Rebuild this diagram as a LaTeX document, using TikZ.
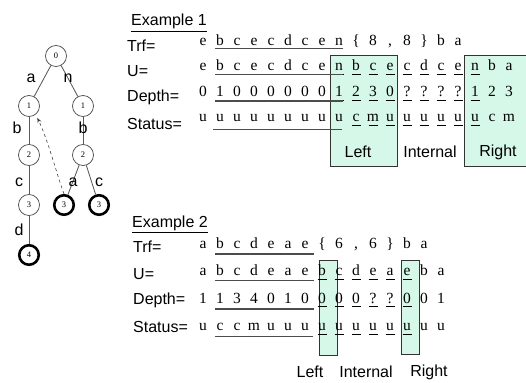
\documentclass[tikz,border=0pt]{standalone}
\usepackage{fontspec}
\setmainfont{Liberation Serif}
\newfontfamily\hv{Liberation Sans}
\usetikzlibrary{arrows.meta}
\definecolor{mint}{HTML}{D5F8E8}
\begin{document}
\begin{tikzpicture}[x=1pt,y=-1pt,
  ch/.style={anchor=base, inner sep=0pt, font=\fontsize{15.5}{18}\selectfont},
  lab/.style={anchor=west, inner sep=0pt, font=\hv\fontsize{16}{19}\selectfont},
  ttl/.style={anchor=base west, inner sep=0pt, font=\hv\fontsize{16}{19}\selectfont},
  sec/.style={inner sep=0pt, font=\hv\fontsize{16}{19}\selectfont},
  el/.style={inner sep=0pt, font=\hv\fontsize{16}{19}\selectfont},
  regbox/.style={draw=black!80, line width=0.8pt, fill=mint},
  ul/.style={line width=0.8pt, black},
  longl/.style={line width=1.3pt, black!70},
  tn/.style={circle, draw=black!70, line width=0.75pt, minimum size=21pt, inner sep=0pt, font=\fontsize{8.5}{9}\selectfont},
  tb/.style={tn, draw=black, line width=2.6pt, minimum size=19.5pt},
  te/.style={draw=black!65, line width=0.85pt},
  ptr/.style={draw=black!75, dashed, line width=0.6pt, -{Stealth[length=5pt,width=4pt]}}
]
\useasboundingbox (0,0) rectangle (526,382);

% ---------------- tree ----------------
\node[tn] (r0) at (56,56) {0};
\node[tn] (l1) at (29,106) {1};
\node[tn] (q1) at (83,106) {1};
\node[tn] (l2) at (29,155) {2};
\node[tn] (q2) at (83,155) {2};
\node[tn] (l3) at (29,205) {3};
\node[tb] (m3) at (64,205) {3};
\node[tb] (q3) at (99,205) {3};
\node[tb] (l4) at (29,255) {4};
\draw[te] (r0) -- (l1);
\draw[te] (r0) -- (q1);
\draw[te] (l1) -- (l2);
\draw[te] (l2) -- (l3);
\draw[te] (l3) -- (l4);
\draw[te] (q1) -- (q2);
\draw[te] (q2) -- (m3);
\draw[te] (q2) -- (q3);
\node[el] (ea) at (31,78) {a};
\node[el] (en) at (68,78) {n};
\node[el] (eb) at (17,128) {b};
\node[el] (eb2) at (83,128) {b};
\node[el] (ec) at (19,182) {c};
\node[el] (ea2) at (73,182) {a};
\node[el] (ec2) at (99,182) {c};
\node[el] (ed) at (19,230) {d};
\draw[ptr] (m3.north) .. controls (56,172) and (49,143) .. ([shift={(2,3)}]l1.-54);

% ---------------- Example 1 ----------------
\node[ttl] (t1) at (131,26) {Example 1};
\draw[line width=0.8pt] ([shift={(0,5)}]t1.base west) -- ([shift={(0,5)}]t1.base east);
\node[lab] (t1trf) at (127,46) {Trf=};
\node[lab] (t1u) at (127,71) {U=};
\node[lab] (t1d) at (127,97) {Depth=};
\node[lab] (t1s) at (127,124) {Status=};

\node[regbox, minimum width=67pt, minimum height=111pt, anchor=north west, inner sep=0pt] (b1l) at (330,55) {};
\node[regbox, minimum width=70pt, minimum height=111pt, anchor=north west, inner sep=0pt] (b1r) at (464,55) {};
\node[sec] (s1l) at (358,152) {Left};
\node[sec] (s1i) at (430,152) {Internal};
\node[sec] (s1r) at (498,152) {Right};

\foreach \c [count=\i] in {e,b,c,e,c,d,c,e,n,\{,8,{,},8,\},b,a}
  \node[ch] (a\i) at ({203+17*(\i-1)},45.5) {\c};
\foreach \c [count=\i] in {e,b,c,e,c,d,c,e,n,b,c,e,c,d,c,e,n,b,a}
  \node[ch] (b\i) at ({203+17*(\i-1)},71) {\c};
\foreach \c [count=\i] in {0,1,0,0,0,0,0,0,1,2,3,0,?,?,?,?,1,2,3}
  \node[ch] (c\i) at ({203+17*(\i-1)},96.5) {\c};
\foreach \c [count=\i] in {u,u,u,u,u,u,u,u,u,c,m,u,u,u,u,u,u,c,m}
  \node[ch] (d\i) at ({203+17*(\i-1)},122) {\c};

\foreach \i in {9,...,17} {
  \draw[ul] ([shift={(-4.5,3.5)}]b\i.base) -- ([shift={(4.5,3.5)}]b\i.base);
  \draw[ul] ([shift={(-4.5,3.5)}]c\i.base) -- ([shift={(4.5,3.5)}]c\i.base);
}
\foreach \i in {10,...,17}
  \draw[ul] ([shift={(-4.5,3.5)}]d\i.base) -- ([shift={(4.5,3.5)}]d\i.base);

\draw[longl] ([shift={(-5,3.2)}]a2.base) -- ([shift={(4,3.2)}]a9.base);
\draw[longl] ([shift={(-5,3.2)}]b2.base) -- ([shift={(4,3.2)}]b9.base);
\draw[longl] ([shift={(-5,4.5)}]c2.base) -- ([shift={(4,4.5)}]c9.base);
\draw[longl] ([shift={(-7,7.5)}]d2.base) -- ([shift={(3,7.5)}]d9.base);

% ---------------- Example 2 ----------------
\node[ttl] (t2) at (132,227) {Example 2};
\draw[line width=0.8pt] ([shift={(0,5)}]t2.base west) -- ([shift={(0,5)}]t2.base east);
\node[lab] (t2trf) at (133,247) {Trf=};
\node[lab] (t2u) at (133,274) {U=};
\node[lab] (t2d) at (133,300) {Depth=};
\node[lab] (t2s) at (133,327) {Status=};

\node[regbox, minimum width=18pt, minimum height=95pt, anchor=north west, inner sep=0pt] (b2l) at (319,260) {};
\node[regbox, minimum width=18pt, minimum height=94pt, anchor=north west, inner sep=0pt] (b2r) at (401,260) {};
\node[sec] (s2l) at (310,372) {Left};
\node[sec] (s2i) at (366,372) {Internal};
\node[sec] (s2r) at (429,372) {Right};

\foreach \c [count=\i] in {a,b,c,d,e,a,e,\{,6,{,},6,\},b,a}
  \node[ch] (e\i) at ({203+17*(\i-1)},248) {\c};
\foreach \c [count=\i] in {a,b,c,d,e,a,e,b,c,d,e,a,e,b,a}
  \node[ch] (f\i) at ({203+17*(\i-1)},275.5) {\c};
\foreach \c [count=\i] in {1,1,3,4,0,1,0,0,0,0,?,?,0,0,1}
  \node[ch] (g\i) at ({203+17*(\i-1)},303) {\c};
\foreach \c [count=\i] in {u,c,c,m,u,u,u,u,u,u,u,u,u,u,u}
  \node[ch] (h\i) at ({203+17*(\i-1)},330.5) {\c};

\foreach \i in {8,...,13} {
  \draw[ul] ([shift={(-4.5,3.5)}]f\i.base) -- ([shift={(4.5,3.5)}]f\i.base);
  \draw[ul] ([shift={(-4.5,3.5)}]g\i.base) -- ([shift={(4.5,3.5)}]g\i.base);
  \draw[ul] ([shift={(-4.5,3.5)}]h\i.base) -- ([shift={(4.5,3.5)}]h\i.base);
}
\draw[longl] ([shift={(-5,6)}]e2.base) -- ([shift={(9,6)}]e7.base);
\draw[longl] ([shift={(-5,5)}]f2.base) -- ([shift={(9,5)}]f7.base);
\draw[longl] ([shift={(-5,6)}]g2.base) -- ([shift={(9,6)}]g7.base);
\draw[longl] ([shift={(-5,6)}]h2.base) -- ([shift={(8,6)}]h7.base);
\end{tikzpicture}
\end{document}
